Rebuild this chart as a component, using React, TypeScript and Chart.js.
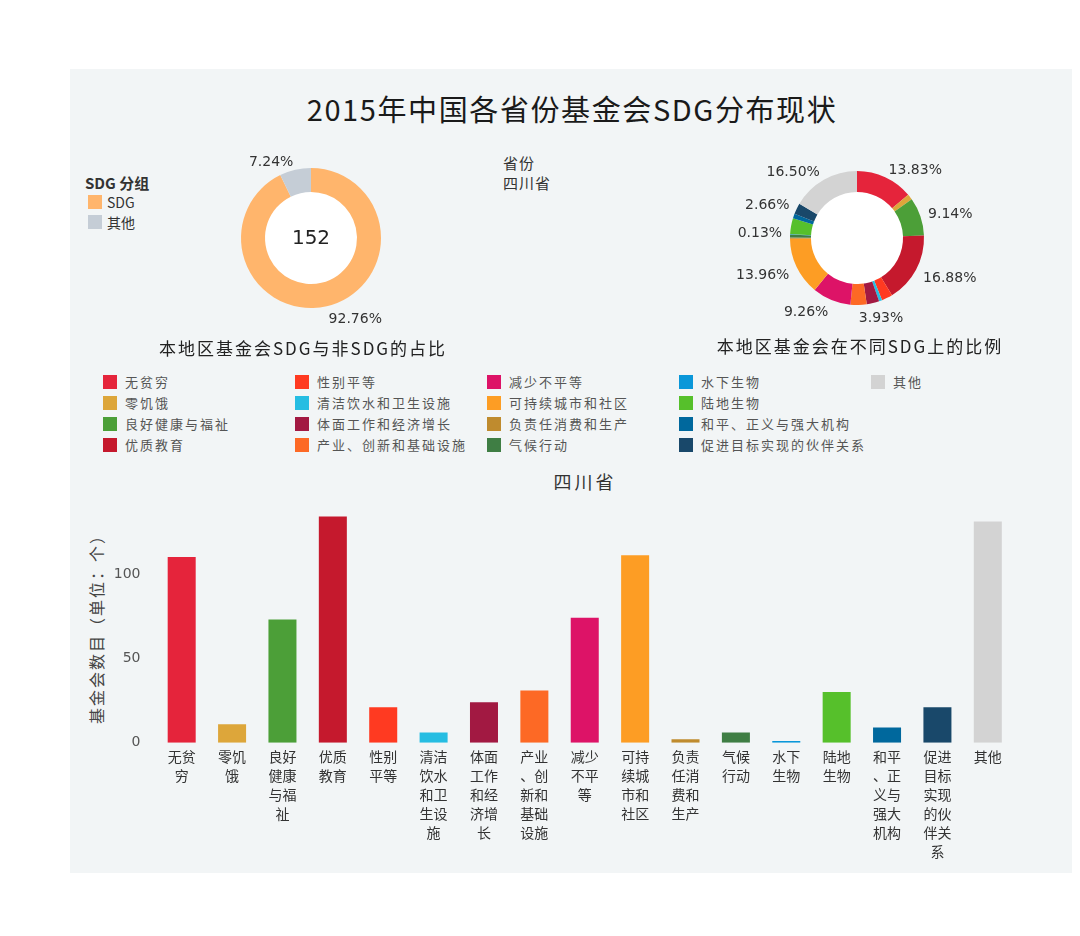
import React, { useEffect, useRef } from "react";
import { Chart, registerables } from "chart.js";
Chart.register(...registerables);

const sdgCategories = [
  "无贫穷", "零饥饿", "良好健康与福祉", "优质教育", "性别平等", "清洁饮水和卫生设施",
  "体面工作和经济增长", "产业、创新和基础设施", "减少不平等", "可持续城市和社区",
  "负责任消费和生产", "气候行动", "水下生物", "陆地生物", "和平、正义与强大机构",
  "促进目标实现的伙伴关系", "其他",
];
const sdgCounts = [110, 11, 73, 134, 21, 6, 24, 31, 74, 111, 2, 6, 1, 30, 9, 21, 131];
const sdgColors = [
  "#e5243b", "#dda63a", "#4c9f38", "#c5192d", "#ff3a21", "#26bde2", "#a21942", "#fd6925",
  "#dd1367", "#fd9d24", "#bf8b2e", "#3f7e44", "#0a97d9", "#56c02b", "#00689d", "#19486a", "#d3d3d3",
];
const sdgPctLabels = ["13.83%", "", "9.14%", "16.88%", "", "", "", "3.93%", "9.26%", "13.96%", "", "", "0.13%", "", "", "2.66%", "16.50%"];

const groupLabels = ["SDG", "其他"];
const groupCounts = [141, 11];
const groupColors = ["#ffb56c", "#c5cdd6"];
const groupPctLabels = ["92.76%", "7.24%"];

const yTickValues = [0, 50, 100];

const CJK = '"Noto Sans CJK SC", sans-serif';
const NUM = '"DejaVu Sans", sans-serif';

const chunk2 = (s: string) => {
  const out: string[] = [];
  for (let i = 0; i < s.length; i += 2) out.push(s.slice(i, i + 2));
  return out;
};

const arcLabelPlugin = (id: string, labels: string[], centerText?: string) => ({
  id,
  beforeDatasetsDraw(chart: any) {
    const meta = chart.getDatasetMeta(0);
    const a: any = meta.data[0];
    if (!a) return;
    const p = a.getProps(["x", "y", "innerRadius"], true);
    const ctx = chart.ctx;
    ctx.save();
    ctx.fillStyle = "#ffffff";
    ctx.beginPath();
    ctx.arc(p.x, p.y, p.innerRadius + 0.5, 0, Math.PI * 2);
    ctx.fill();
    ctx.restore();
  },
  afterDatasetsDraw(chart: any) {
    const ctx = chart.ctx;
    const meta = chart.getDatasetMeta(0);
    ctx.save();
    ctx.font = `14px ${NUM}`;
    ctx.fillStyle = "#333333";
    ctx.textBaseline = "middle";
    meta.data.forEach((arc: any, i: number) => {
      const text = labels[i];
      if (!text) return;
      const p = arc.getProps(["x", "y", "startAngle", "endAngle", "outerRadius"], true);
      const mid = (p.startAngle + p.endAngle) / 2;
      const r = p.outerRadius + 8;
      const cx = Math.cos(mid);
      const sy = Math.sin(mid);
      const x = p.x + r * cx;
      let y = p.y + r * sy;
      if (sy > 0) y += 5;
      ctx.textAlign = cx >= 0 ? "left" : "right";
      ctx.fillText(text, x, y);
    });
    if (centerText) {
      const a: any = meta.data[0];
      const p = a.getProps(["x", "y"], true);
      ctx.font = `20px ${NUM}`;
      ctx.fillStyle = "#222222";
      ctx.textAlign = "center";
      ctx.fillText(centerText, p.x, p.y + 1);
    }
    ctx.restore();
  },
});

function Donut(props: {
  left: number; top: number; width: number; height: number;
  values: number[]; colors: string[]; labels: string[]; pct: string[];
  radius: number; cutout: string; centerText?: string; id: string;
}) {
  const ref = useRef<HTMLCanvasElement>(null);
  useEffect(() => {
    if (!ref.current) return;
    const chart = new Chart(ref.current, {
      type: "doughnut",
      data: {
        labels: props.labels,
        datasets: [{ data: props.values, backgroundColor: props.colors, borderWidth: 0 }],
      },
      options: {
        responsive: false,
        animation: false,
        radius: props.radius,
        cutout: props.cutout,
        layout: { padding: 0 },
        plugins: { legend: { display: false }, tooltip: { enabled: false }, title: { display: false } },
      } as any,
      plugins: [arcLabelPlugin(props.id, props.pct, props.centerText)],
    });
    return () => chart.destroy();
  }, []);
  return (
    <canvas
      ref={ref}
      width={props.width}
      height={props.height}
      style={{ position: "absolute", left: props.left, top: props.top, width: props.width, height: props.height }}
    />
  );
}

function Bars() {
  const ref = useRef<HTMLCanvasElement>(null);
  useEffect(() => {
    if (!ref.current) return;
    const chart = new Chart(ref.current, {
      type: "bar",
      data: {
        labels: sdgCategories.map(chunk2),
        datasets: [{
          data: sdgCounts,
          backgroundColor: sdgColors,
          borderWidth: 0,
          barPercentage: 0.556,
          categoryPercentage: 1,
        }],
      },
      options: {
        responsive: false,
        animation: false,
        layout: { padding: { left: 0, right: 59, top: 11, bottom: 0 } },
        plugins: { legend: { display: false }, tooltip: { enabled: false } },
        scales: {
          x: {
            grid: { display: false },
            border: { display: false },
            ticks: {
              color: "#333333",
              font: { family: CJK, size: 14, lineHeight: 1.36 },
              padding: -4,
              maxRotation: 0,
              minRotation: 0,
              autoSkip: false,
            },
            afterFit(s: any) { s.height = 130.3; },
          },
          y: {
            min: 0,
            max: 140,
            grid: { display: false },
            border: { display: false },
            ticks: {
              stepSize: 50,
              color: "#555555",
              font: { family: NUM, size: 14 },
              padding: 8,
              callback: (v: any) => (yTickValues.includes(Number(v)) ? String(v) : ""),
            },
            afterFit(s: any) { s.width = 86.5; },
          },
        },
      } as any,
    });
    return () => chart.destroy();
  }, []);
  return (
    <canvas
      ref={ref}
      width={1002}
      height={383}
      style={{ position: "absolute", left: 70, top: 490, width: 1002, height: 383 }}
    />
  );
}

function T(props: { x: number; y: number; size: number; text: string; color?: string; align?: "center" | "left"; spacing?: number; weight?: number; family?: string }) {
  const center = props.align !== "left";
  return (
    <div
      style={{
        position: "absolute",
        left: props.x,
        top: props.y,
        transform: center ? "translate(-50%, -50%)" : "translate(0, -50%)",
        fontFamily: props.family || CJK,
        fontSize: props.size,
        color: props.color || "#333333",
        letterSpacing: props.spacing || 0,
        fontWeight: props.weight || 400,
        whiteSpace: "nowrap",
        lineHeight: 1.2,
      }}
    >
      {props.text}
    </div>
  );
}

export default function App() {
  const total = groupCounts.reduce((a, b) => a + b, 0);
  return (
    <div style={{ position: "absolute", left: 0, top: 0, width: 1080, height: 936, background: "#ffffff", overflow: "hidden" }}>
      <div style={{ position: "absolute", left: 70, top: 69, width: 1002, height: 804, background: "#f2f5f6" }} />

      <T x={572} y={108} size={29} spacing={1.6} text="2015年中国各省份基金会SDG分布现状" color="#1a1a1a" />

      {/* left legend */}
      <T x={85} y={183} size={15} align="left" weight={600} text="SDG 分组" color="#333" />
      {groupLabels.map((g, i) => (
        <React.Fragment key={g}>
          <div style={{ position: "absolute", left: 88, top: 195 + i * 20, width: 14, height: 14, background: groupColors[i] }} />
          <T x={107} y={202 + i * 20} size={14} align="left" text={g} color="#333" />
        </React.Fragment>
      ))}

      <T x={503} y={163} size={15} align="left" spacing={1} text="省份" color="#333" />
      <T x={503} y={183} size={15} align="left" spacing={1} text="四川省" color="#333" />

      <Donut id="leftDonut" left={211} top={138} width={200} height={200} values={groupCounts} colors={groupColors}
        labels={groupLabels} pct={groupPctLabels} radius={70} cutout="65.7%" centerText={String(total)} />
      <Donut id="rightDonut" left={707} top={138} width={300} height={200} values={sdgCounts} colors={sdgColors}
        labels={sdgCategories} pct={sdgPctLabels} radius={67} cutout="68.7%" />

      <T x={303} y={348} size={17} spacing={2} text="本地区基金会SDG与非SDG的占比" color="#222" />
      <T x={860} y={346} size={17} spacing={2} text="本地区基金会在不同SDG上的比例" color="#222" />

      {/* SDG legend grid */}
      {sdgCategories.map((c, i) => {
        const col = Math.floor(i / 4);
        const row = i % 4;
        const x = 103 + col * 192;
        const y = 382 + row * 21;
        return (
          <React.Fragment key={c}>
            <div style={{ position: "absolute", left: x, top: y - 7, width: 14, height: 14, background: sdgColors[i] }} />
            <T x={x + 22} y={y} size={13} spacing={2} align="left" text={c} color="#555" />
          </React.Fragment>
        );
      })}

      <T x={585} y={482} size={18} spacing={3} text="四川省" color="#333" />
      <div
        style={{
          position: "absolute", left: 96, top: 625, transform: "translate(-50%, -50%) rotate(-90deg)",
          fontFamily: CJK, fontSize: 16, letterSpacing: 2, color: "#444", whiteSpace: "nowrap",
        }}
      >
        基金会数目（单位：个）
      </div>

      <Bars />
    </div>
  );
}
